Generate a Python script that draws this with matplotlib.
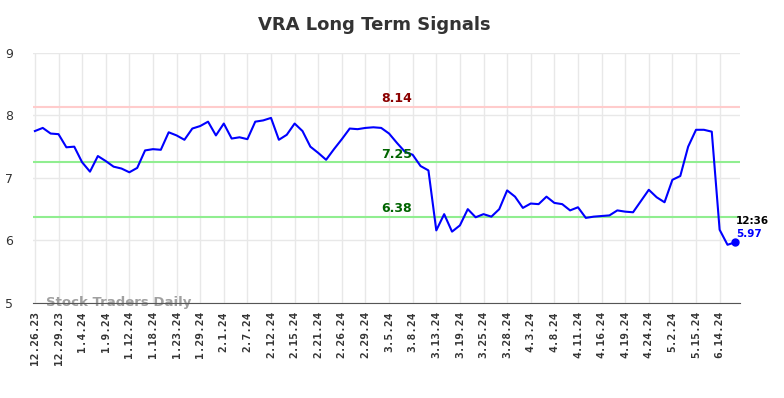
import numpy as np
import matplotlib
matplotlib.use("Agg")
import matplotlib.pyplot as plt

# closing prices, one per trading session (index based x axis)
prices = [7.75, 7.80, 7.71, 7.70, 7.49, 7.50, 7.25, 7.10, 7.35, 7.27,
          7.18, 7.15, 7.09, 7.16, 7.44, 7.46, 7.45, 7.73, 7.68, 7.61,
          7.79, 7.83, 7.90, 7.68, 7.87, 7.63, 7.65, 7.62, 7.90, 7.92,
          7.96, 7.61, 7.69, 7.87, 7.75, 7.50, 7.40, 7.29, 7.46, 7.62,
          7.79, 7.78, 7.80, 7.81, 7.80, 7.71, 7.56, 7.42, 7.37, 7.19,
          7.12, 6.16, 6.42, 6.14, 6.24, 6.50, 6.37, 6.42, 6.38, 6.50,
          6.80, 6.70, 6.52, 6.59, 6.58, 6.70, 6.60, 6.58, 6.48, 6.53,
          6.36, 6.38, 6.39, 6.40, 6.48, 6.46, 6.45, 6.63, 6.81, 6.69,
          6.61, 6.97, 7.03, 7.50, 7.77, 7.77, 7.74, 6.17, 5.93, 5.97]

tick_labels = ['12.26.23', '12.29.23', '1.4.24', '1.9.24', '1.12.24', '1.18.24',
               '1.23.24', '1.29.24', '2.1.24', '2.7.24', '2.12.24', '2.15.24',
               '2.21.24', '2.26.24', '2.29.24', '3.5.24', '3.8.24', '3.13.24',
               '3.19.24', '3.25.24', '3.28.24', '4.3.24', '4.8.24', '4.11.24',
               '4.16.24', '4.19.24', '4.24.24', '5.2.24', '5.15.24', '6.14.24']

resistance = 8.14
supports = [7.25, 6.38]
last_time = '12:36'

x = np.arange(len(prices))
tick_pos = np.arange(len(tick_labels)) * 3

fig = plt.figure(figsize=(7.84, 3.98), dpi=100)
ax = fig.add_axes([0.042, 0.239, 0.902, 0.628])

ax.plot(x, prices, color='blue', lw=1.5, zorder=3)
ax.plot(x[-1], prices[-1], 'o', color='blue', ms=5, zorder=4)

ax.axhline(resistance, color='#ffcccc', lw=1.5, zorder=2)
for s in supports:
    ax.axhline(s, color='#90ee90', lw=1.5, zorder=2)

mid = 46
ax.text(mid, resistance + 0.02, f'{resistance:.2f}', color='#8b0000',
        fontsize=9, fontweight='bold', ha='center', va='bottom')
for s in supports:
    ax.text(mid, s + 0.02, f'{s:.2f}', color='#006400',
            fontsize=9, fontweight='bold', ha='center', va='bottom')

ax.text(x[-1] + 0.1, prices[-1] + 0.34, last_time, color='black',
        fontsize=7.5, fontweight='bold', ha='left', va='center')
ax.text(x[-1] + 0.1, prices[-1] + 0.13, f'{prices[-1]:.2f}', color='blue',
        fontsize=7.5, fontweight='bold', ha='left', va='center')

ax.text(1.4, 5.0, 'Stock Traders Daily', color='#a0a0a0', fontsize=9.5,
        fontweight='bold', ha='left', va='center', zorder=1)

ax.set_xlim(-0.25, 89.6)
ax.set_ylim(5, 9)
ax.set_yticks([5, 6, 7, 8, 9])
ax.set_xticks(tick_pos)
ax.set_xticklabels(tick_labels, rotation=90, fontsize=8, fontweight='bold',
                   family='DejaVu Sans Mono')
ax.tick_params(axis='y', labelsize=9, length=0, pad=14, colors='#333333')
ax.tick_params(axis='x', length=0, pad=6, colors='#333333')

ax.grid(True, color='#e8e8e8', lw=1)
ax.set_axisbelow(True)
for side in ['left', 'right', 'top']:
    ax.spines[side].set_visible(False)
ax.spines['bottom'].set_color('#555555')

fig.suptitle('VRA Long Term Signals', x=0.478, y=0.96, fontsize=13,
             fontweight='bold', color='#333333')

fig.savefig('out.png', dpi=100)
